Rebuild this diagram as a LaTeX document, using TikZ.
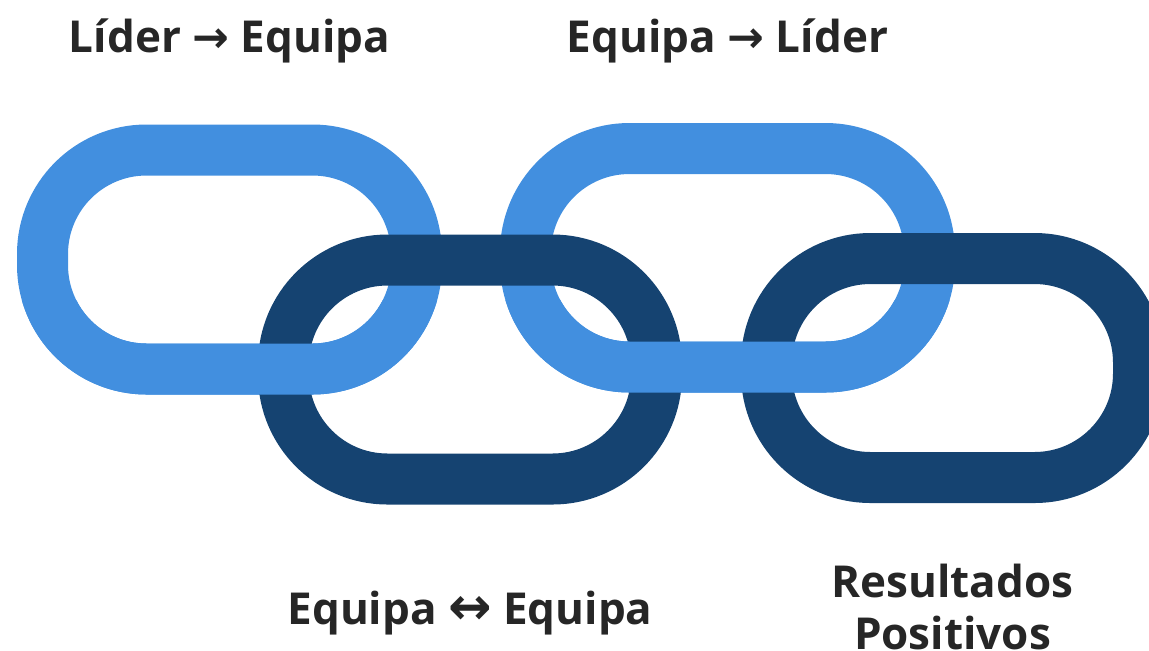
\documentclass[tikz,border=0pt]{standalone}
\usepackage{fontspec}
\setmainfont{Open Sans}
\newfontfamily\arrowfont{DejaVu Sans}
\usepackage{tikz}

\definecolor{linklight}{HTML}{428FDF}
\definecolor{linkdark}{HTML}{154371}
\definecolor{labeltext}{HTML}{262626}

\begin{document}
\begin{tikzpicture}[x=0.5pt,y=-0.5pt,
    link/.style={line width=25.5pt,rounded corners=52pt},
    lab/.style={font=\bfseries\fontsize{22}{26}\selectfont,text=labeltext,align=center,anchor=base}]
  \useasboundingbox (0,0) rectangle (1149,650);

  % light links
  \draw[link,color=linklight] (42.5,150) rectangle (416.5,369);
  \draw[link,color=linklight] (525.5,148.5) rectangle (929.5,367);

  % dark links
  \draw[link,color=linkdark] (283.5,260) rectangle (656.5,479);
  \draw[link,color=linkdark] (766.5,258.5) rectangle (1138.5,477.5);

  % lower half of the light links goes on top again
  \begin{scope}
    \clip (0,300) rectangle (1149,650);
    \draw[link,color=linklight] (42.5,150) rectangle (416.5,369);
    \draw[link,color=linklight] (525.5,148.5) rectangle (929.5,367);
  \end{scope}

  \node[lab] (lidereq) at (229.5,52) {Líder {\arrowfont\bfseries →} Equipa};
  \node[lab] (eqlider) at (727.5,52) {Equipa {\arrowfont\bfseries →} Líder};
  \node[lab] (eqeq) at (470,624) {Equipa {\arrowfont\bfseries\fontsize{26}{26}\selectfont ↔} Equipa};
  \node[lab] (result) at (952.5,649) {Resultados\\Positivos};
\end{tikzpicture}
\end{document}
